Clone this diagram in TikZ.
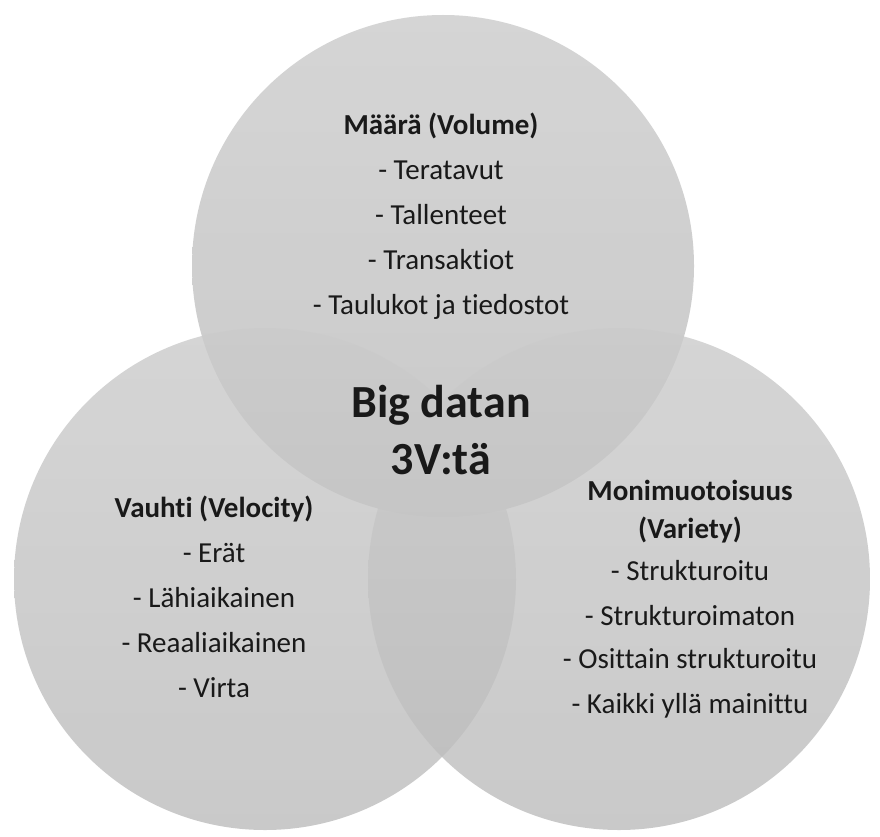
\documentclass[tikz,border=0pt]{standalone}
\usepackage{fontspec}
\setmainfont{Carlito}[Ligatures=NoCommon]
\begin{document}
\begin{tikzpicture}[x=1pt,y=-1pt,
  vcircle/.style={circle,minimum size=502pt,inner sep=0pt,
    top color=circtop,bottom color=circbot,fill opacity=0.8,draw=none},
  label/.style={align=center,font=\fontsize{29}{45}\selectfont,text=black!90}
]
\definecolor{circtop}{RGB}{203,203,203}
\definecolor{circbot}{RGB}{188,188,188}
\useasboundingbox (0,0) rectangle (880,837);
\fill[white] (0,0) rectangle (880,837);

% three overlapping sets
\node[vcircle] (vol) at (443,266) {};
\node[vcircle] (vel) at (265,579) {};
\node[vcircle] (var) at (619,579) {};

% set contents
\node[label] (voltxt) at (441,216)
  {\textbf{Määrä (Volume)}\\- Teratavut\\- Tallenteet\\- Transaktiot\\- Taulukot ja tiedostot};
\node[label] (veltxt) at (214,597)
  {\textbf{Vauhti (Velocity)}\\- Erät\\- Lähiaikainen\\- Reaaliaikainen\\- Virta};
\node[label] (vartxt) at (690,599)
  {\textbf{Monimuotoisuus}\\[-7pt]\textbf{(Variety)}\\[-3pt]- Strukturoitu\\- Strukturoimaton\\[-2pt]- Osittain strukturoitu\\- Kaikki yllä mainittu};
\node[label,font=\fontsize{46}{57}\selectfont] (core) at (441,430)
  {\textbf{Big datan}\\\textbf{3V:tä}};
\end{tikzpicture}
\end{document}
